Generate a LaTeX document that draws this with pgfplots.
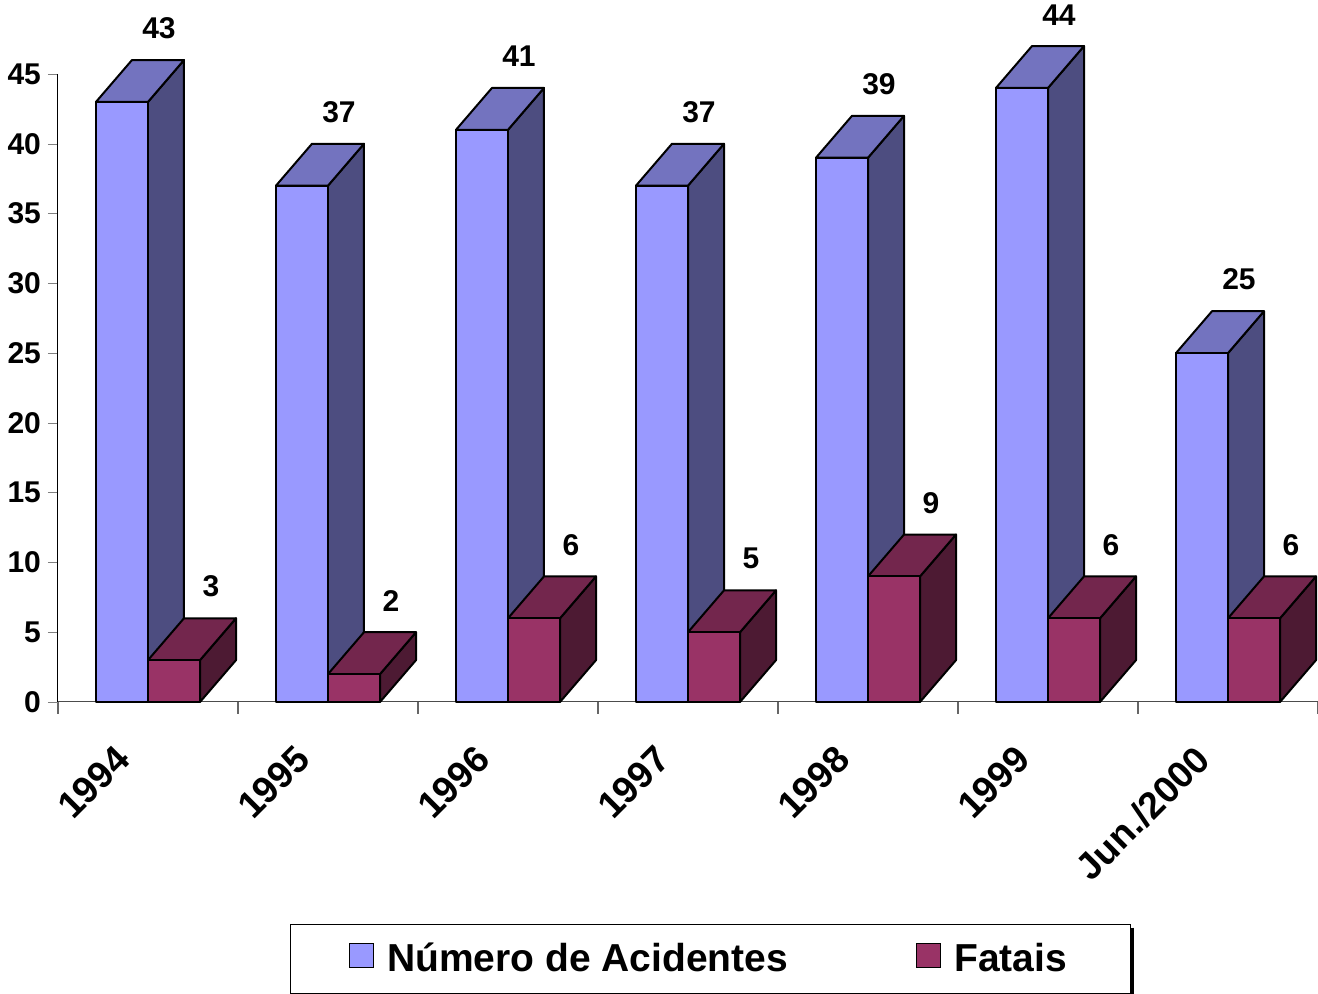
\documentclass[border=0pt]{standalone}
\usepackage{pgfplots}
\pgfplotsset{compat=1.18}
\usepackage{pgfplotstable}
\usepackage{fontspec}
\setmainfont{Liberation Sans}
\definecolor{aF}{HTML}{9999FF}
\definecolor{aT}{HTML}{7373BF}
\definecolor{aS}{HTML}{4D4D80}
\definecolor{fF}{HTML}{993366}
\definecolor{fT}{HTML}{73264D}
\definecolor{fS}{HTML}{4D1A33}
\pgfplotstableread{
x acid fat
0 43 3
1 37 2
2 41 6
3 37 5
4 39 9
5 44 6
6 25 6
}\data
\begin{document}
\begin{tikzpicture}
\useasboundingbox (-29pt,-146pt) rectangle (630pt,351pt);
\begin{axis}[
  at={(0,0)}, anchor=south west,
  scale only axis, width=630pt, height=314pt,
  xmin=-0.5, xmax=6.5, ymin=0, ymax=45,
  clip=false,
  axis x line=bottom, axis y line=left,
  axis line style={-, line width=0.5pt},
  x axis line style={black!70},
  tick align=outside,
  ytick={0,5,...,45},
  major tick length=5pt,
  xtick={0,...,6},
  xticklabels={1994,1995,1996,1997,1998,1999,Jun./2000},
  x tick style={draw=none},
  minor xtick={-0.5,0.5,...,6.5},
  minor tick length=6pt,
  minor x tick style={draw=black!60, line width=0.6pt},
  /pgf/number format/assume math mode=true,
  yticklabel style={font=\bfseries\fontsize{15}{18}\selectfont},
  xticklabel style={font=\bfseries\fontsize{18.7}{22}\selectfont, xshift=-10pt, yshift=-18pt, rotate=45, anchor=east},
  legend style={at={(0.5175,-0.409)}, anchor=center, legend columns=2,
    draw=black, line width=0.5pt, inner xsep=29.5pt, inner ysep=7.5pt,
    font=\bfseries\fontsize{19.5}{22}\selectfont,
    /tikz/every odd column/.append style={column sep=4.5pt},
    /tikz/every even column/.append style={column sep=62pt}, name=leg},
  legend image code/.code={\draw[#1, draw=black, line width=0.6pt] (0pt,-4.5pt) rectangle (12pt,7.5pt);},
]
\pgfplotsinvokeforeach{0,...,6}{
  \pgfplotstablegetelem{#1}{acid}\of\data \pgfmathsetmacro\va{\pgfplotsretval}
  \pgfplotstablegetelem{#1}{fat}\of\data \pgfmathsetmacro\vf{\pgfplotsretval}
  \pgfmathsetmacro\xa{#1-0.289}
  \pgfmathsetmacro\xm{#1}
  \pgfmathsetmacro\xf{#1+0.289}
  \pgfmathsetmacro\xad{\xa+0.2}
  \pgfmathsetmacro\xmd{\xm+0.2}
  \pgfmathsetmacro\xfd{\xf+0.2}
  \pgfmathsetmacro\vad{\va+3}
  \pgfmathsetmacro\vfd{\vf+3}
  \edef\tmp{%
    \noexpand\addplot[fill=aS, draw=black, line width=1pt, line join=round, forget plot] coordinates {(\xm,0) (\xm,\va) (\xmd,\vad) (\xmd,3)} -- cycle;
    \noexpand\addplot[fill=aT, draw=black, line width=1pt, line join=round, forget plot] coordinates {(\xa,\va) (\xm,\va) (\xmd,\vad) (\xad,\vad)} -- cycle;
    \noexpand\addplot[fill=aF, draw=black, line width=1pt, line join=round, forget plot] coordinates {(\xa,0) (\xm,0) (\xm,\va) (\xa,\va)} -- cycle;
    \noexpand\addplot[fill=fS, draw=black, line width=1pt, line join=round, forget plot] coordinates {(\xf,0) (\xf,\vf) (\xfd,\vfd) (\xfd,3)} -- cycle;
    \noexpand\addplot[fill=fT, draw=black, line width=1pt, line join=round, forget plot] coordinates {(\xm,\vf) (\xf,\vf) (\xfd,\vfd) (\xmd,\vfd)} -- cycle;
    \noexpand\addplot[fill=fF, draw=black, line width=1pt, line join=round, forget plot] coordinates {(\xm,0) (\xf,0) (\xf,\vf) (\xm,\vf)} -- cycle;
  }\tmp
}
\addplot[draw=none, mark=none, forget plot, nodes near coords, point meta=explicit symbolic,
  nodes near coords style={font=\bfseries\fontsize{15}{18}\selectfont, anchor=south, yshift=7pt, xshift=0.5pt}]
  table[x expr=\thisrow{x}+0.0555, y expr=\thisrow{acid}+3, meta=acid]{\data};
\addplot[draw=none, mark=none, forget plot, nodes near coords, point meta=explicit symbolic,
  nodes near coords style={font=\bfseries\fontsize{15}{18}\selectfont, anchor=south, yshift=7pt, xshift=0.5pt}]
  table[x expr=\thisrow{x}+0.3445, y expr=\thisrow{fat}+3, meta=fat]{\data};
\addlegendimage{fill=aF}
\addlegendentry{Número de Acidentes}
\addlegendimage{fill=fF}
\addlegendentry{Fatais}
\end{axis}
\draw[line width=1.5pt] ([xshift=1pt,yshift=-2pt]leg.north east) -- ([xshift=1pt]leg.south east);
\end{tikzpicture}
\end{document}
